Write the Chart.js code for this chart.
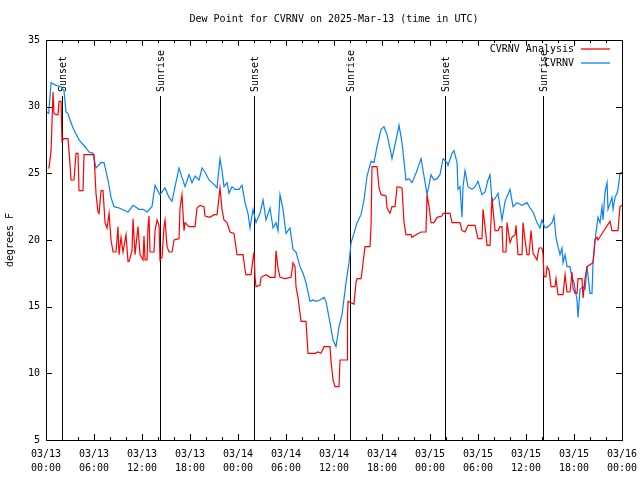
<!DOCTYPE html>
<html>
<head>
<meta charset="utf-8">
<script src="https://cdn.jsdelivr.net/npm/chart.js@4"></script>
<style>
  html, body { margin: 0; padding: 0; background: #fff; }
  canvas { display: block; }
</style>
</head>
<body>
<canvas id="chart" width="640" height="480"></canvas>
<script>
// hours since 2025-03-13 00:00 UTC
const analysisHours = [0.25, 0.38, 0.63, 0.88, 1.0, 1.25, 1.5, 1.63, 1.88, 2.0, 2.25, 2.75, 2.88, 3.13, 3.5, 3.75, 4.0, 4.13, 4.63, 4.75, 6.0, 6.25, 6.5, 6.63, 6.88, 7.13, 7.38, 7.63, 7.88, 8.13, 8.38, 8.75, 9.0, 9.13, 9.38, 9.63, 10.0, 10.25, 10.38, 10.75, 10.88, 11.13, 11.5, 11.75, 12.13, 12.25, 12.38, 12.63, 12.75, 12.88, 13.0, 13.5, 13.63, 13.88, 14.13, 14.25, 14.5, 14.75, 14.88, 15.13, 15.38, 15.75, 16.0, 16.63, 16.75, 17.0, 17.25, 17.38, 17.88, 18.63, 18.88, 19.25, 19.75, 19.88, 20.5, 21.0, 21.38, 21.75, 22.0, 22.25, 22.63, 23.0, 23.5, 23.88, 24.63, 24.88, 25.0, 25.63, 25.88, 26.0, 26.13, 26.25, 26.75, 26.88, 27.5, 28.0, 28.63, 28.75, 29.0, 29.25, 29.88, 30.63, 30.88, 31.13, 31.25, 31.5, 31.75, 31.88, 32.5, 32.75, 33.63, 34.0, 34.38, 34.75, 35.5, 35.63, 35.88, 36.13, 36.63, 36.75, 37.63, 37.69, 37.75, 38.5, 38.75, 38.88, 39.38, 39.5, 39.75, 39.88, 40.5, 40.63, 40.75, 41.38, 41.63, 41.88, 42.5, 42.63, 43.0, 43.25, 43.63, 43.88, 44.5, 44.75, 45.0, 45.63, 45.75, 46.25, 46.88, 47.5, 47.63, 47.88, 48.13, 48.5, 48.88, 49.5, 49.63, 50.5, 50.75, 51.75, 52.0, 52.38, 52.75, 53.63, 54.0, 54.5, 54.63, 54.88, 55.13, 55.5, 55.75, 55.88, 56.13, 56.5, 56.75, 57.0, 57.13, 57.5, 57.63, 58.0, 58.25, 58.63, 58.75, 59.0, 59.5, 59.63, 59.88, 60.13, 60.38, 60.63, 60.88, 61.38, 61.5, 61.63, 62.0, 62.13, 62.25, 62.5, 62.63, 62.88, 63.13, 63.63, 63.75, 64.0, 64.63, 64.88, 65.13, 65.5, 65.75, 65.88, 66.13, 66.38, 66.5, 67.0, 67.13, 67.38, 67.63, 68.38, 68.63, 68.88, 69.0, 69.63, 70.5, 70.75, 71.5, 71.75, 72.0];
const analysisValues = [25.4, 25.4, 26.7, 31.1, 29.5, 29.4, 29.4, 30.4, 30.4, 27.4, 27.6, 27.6, 26.7, 24.5, 24.5, 26.5, 26.5, 23.7, 23.7, 26.4, 26.4, 23.5, 22.1, 22.0, 23.7, 23.7, 21.3, 20.9, 22.0, 20.0, 19.1, 19.1, 21.0, 18.9, 20.2, 19.1, 20.4, 18.4, 18.4, 19.2, 21.6, 18.9, 21.0, 18.9, 18.5, 20.3, 18.5, 18.5, 21.0, 21.8, 19.1, 19.1, 20.7, 21.5, 21.1, 18.5, 18.7, 21.0, 21.5, 19.5, 19.1, 19.1, 20.0, 20.1, 22.4, 23.4, 20.7, 21.3, 21.0, 21.0, 22.4, 22.6, 22.5, 21.8, 21.7, 21.9, 21.9, 23.9, 22.3, 21.5, 21.3, 20.6, 20.5, 18.9, 18.9, 17.75, 17.4, 17.4, 18.6, 19.1, 17.2, 16.5, 16.6, 17.2, 17.4, 17.2, 17.2, 19.2, 17.9, 17.2, 17.1, 17.2, 18.3, 18.0, 16.5, 15.7, 14.5, 13.9, 13.9, 11.5, 11.5, 11.6, 11.5, 12.0, 12.0, 10.9, 9.5, 9.0, 9.0, 11.0, 11.0, 14.2, 15.4, 15.2, 16.8, 17.1, 17.1, 17.6, 18.9, 19.5, 19.5, 21.0, 25.5, 25.5, 23.9, 23.4, 23.3, 22.4, 22.0, 22.5, 22.5, 24.0, 23.9, 21.3, 20.4, 20.4, 20.2, 20.4, 20.6, 20.6, 23.4, 22.5, 21.3, 21.3, 21.7, 21.8, 22.0, 22.0, 21.3, 21.3, 20.7, 20.6, 21.1, 21.1, 20.1, 20.1, 22.3, 21.0, 19.6, 19.6, 23.2, 22.3, 20.7, 20.7, 21.0, 21.0, 19.1, 19.1, 21.3, 19.8, 20.2, 20.4, 21.1, 18.9, 18.9, 21.3, 20.0, 18.9, 18.9, 20.7, 19.0, 18.5, 19.0, 19.4, 19.4, 18.9, 17.25, 17.25, 18.0, 17.75, 16.5, 16.5, 17.1, 15.9, 15.9, 17.4, 16.1, 16.1, 17.6, 16.4, 16.0, 16.0, 17.1, 17.1, 15.65, 17.1, 18.0, 18.3, 20.0, 20.2, 20.0, 20.6, 21.4, 20.7, 20.7, 22.5, 22.6];

const stationHours = [0.1, 0.34, 0.63, 1.25, 1.88, 2.25, 2.5, 2.75, 2.88, 3.38, 4.13, 5.0, 5.38, 5.88, 6.25, 6.88, 7.25, 7.75, 8.13, 8.5, 9.13, 10.25, 10.88, 11.63, 12.13, 12.63, 13.25, 13.63, 14.13, 14.25, 14.88, 15.38, 15.75, 16.13, 16.63, 17.0, 17.38, 17.88, 18.25, 18.63, 19.13, 19.5, 19.88, 20.38, 20.75, 21.13, 21.38, 21.75, 22.0, 22.25, 22.63, 22.88, 23.25, 23.63, 24.13, 24.5, 24.88, 25.25, 25.5, 25.88, 26.25, 26.75, 27.13, 27.5, 28.0, 28.38, 28.75, 29.0, 29.25, 29.63, 30.0, 30.5, 30.88, 31.25, 31.75, 32.13, 32.5, 33.0, 33.38, 33.75, 34.25, 34.75, 35.0, 35.5, 35.88, 36.25, 36.63, 37.0, 37.5, 37.88, 38.13, 38.5, 38.88, 39.38, 39.75, 40.13, 40.63, 41.0, 41.38, 41.88, 42.25, 42.63, 43.13, 43.25, 43.75, 44.13, 44.5, 45.0, 45.38, 45.75, 46.25, 46.88, 47.25, 47.63, 48.13, 48.5, 48.88, 49.25, 49.63, 50.13, 50.25, 50.75, 51.0, 51.38, 51.5, 51.75, 52.0, 52.13, 52.38, 52.75, 53.25, 53.63, 54.0, 54.5, 54.88, 55.25, 55.5, 55.75, 56.13, 56.5, 57.0, 57.38, 58.0, 58.38, 58.88, 59.5, 60.13, 60.5, 60.88, 61.38, 61.75, 62.0, 62.38, 62.75, 63.25, 63.5, 63.75, 64.0, 64.25, 64.5, 64.63, 64.88, 65.13, 65.5, 65.75, 66.0, 66.38, 66.5, 66.75, 67.13, 67.38, 67.63, 68.0, 68.25, 68.38, 68.63, 69.0, 69.25, 69.5, 69.63, 69.88, 70.13, 70.25, 70.75, 70.88, 71.13, 71.38, 71.5, 71.75, 72.0];
const stationValues = [29.6, 29.5, 31.8, 31.6, 31.5, 31.2, 29.6, 29.5, 29.2, 28.4, 27.5, 26.9, 26.6, 26.5, 25.4, 25.8, 25.8, 24.5, 23.2, 22.5, 22.4, 22.1, 22.6, 22.3, 22.3, 22.1, 22.5, 24.1, 23.5, 23.4, 23.9, 23.2, 22.9, 24.0, 25.4, 24.7, 24.0, 24.9, 24.3, 24.8, 24.5, 25.4, 25.1, 24.5, 24.3, 24.1, 23.9, 26.1, 25.2, 24.0, 24.3, 23.5, 24.0, 23.8, 23.8, 24.1, 22.8, 22.0, 20.9, 22.3, 21.3, 22.0, 23.0, 21.5, 22.4, 20.9, 21.3, 20.7, 23.4, 22.3, 20.5, 20.9, 19.3, 19.1, 18.0, 17.5, 16.8, 15.4, 15.5, 15.4, 15.5, 15.7, 15.4, 13.8, 12.5, 12.0, 13.5, 14.4, 16.8, 18.3, 19.8, 20.5, 21.3, 21.9, 23.0, 24.8, 25.9, 25.8, 27.0, 28.3, 28.5, 27.9, 26.5, 26.1, 27.5, 28.6, 27.3, 24.5, 24.6, 24.3, 25.0, 26.1, 24.8, 23.4, 24.9, 24.5, 24.6, 24.9, 26.1, 25.8, 25.6, 26.5, 26.7, 25.8, 23.8, 24.0, 21.7, 24.0, 25.2, 24.0, 23.8, 24.0, 24.4, 23.4, 23.6, 24.5, 24.9, 22.9, 23.1, 23.5, 21.5, 22.9, 23.8, 22.5, 22.8, 22.6, 22.8, 22.4, 22.1, 21.3, 20.9, 21.5, 20.9, 21.0, 21.3, 21.8, 20.2, 19.5, 18.9, 19.4, 18.3, 18.9, 18.0, 18.0, 17.2, 16.8, 15.5, 14.2, 16.3, 16.5, 16.3, 18.0, 16.0, 16.0, 18.3, 20.0, 21.7, 21.3, 22.5, 21.5, 23.6, 24.3, 22.3, 23.2, 22.3, 23.2, 23.5, 23.8, 25.0, 25.1];

const xTickDays = ['03/13', '03/13', '03/13', '03/13', '03/14', '03/14', '03/14', '03/14', '03/15', '03/15', '03/15', '03/15', '03/16'];
const xTickTimes = ['00:00', '06:00', '12:00', '18:00', '00:00', '06:00', '12:00', '18:00', '00:00', '06:00', '12:00', '18:00', '00:00'];

const sunHours = [2.0, 14.25, 26.0, 38.0, 49.88, 62.13];
const sunLabels = ['Sunset', 'Sunrise', 'Sunset', 'Sunrise', 'Sunset', 'Sunrise'];

const FONT = '10px "DejaVu Sans Mono", monospace';

const toPoints = (xs, ys) => xs.map((x, i) => ({ x: x, y: ys[i] }));

// gnuplot-ish frame: inward ticks, box border, sun lines, title, legend
const gnuplotFrame = {
  id: 'gnuplotFrame',
  beforeDatasetsDraw(chart) {
    const { ctx, chartArea: a, scales: { x } } = chart;
    ctx.save();
    ctx.strokeStyle = '#000';
    ctx.lineWidth = 1;
    ctx.fillStyle = '#000';
    ctx.font = FONT;
    sunHours.forEach((h, i) => {
      const px = Math.round(x.getPixelForValue(h)) + 0.5;
      ctx.beginPath();
      ctx.moveTo(px, 96);
      ctx.lineTo(px, a.bottom);
      ctx.stroke();
      ctx.save();
      ctx.translate(px + 1, 92);
      ctx.rotate(-Math.PI / 2);
      ctx.textAlign = 'left';
      ctx.textBaseline = 'middle';
      ctx.fillText(sunLabels[i], 0, 0);
      ctx.restore();
    });
    ctx.restore();
  },
  afterDatasetsDraw(chart) {
    const { ctx, chartArea: a, scales: { x, y } } = chart;
    ctx.save();
    ctx.strokeStyle = '#000';
    ctx.lineWidth = 1;
    ctx.beginPath();
    for (let h = 0; h <= 72; h += 2) {
      const px = Math.round(x.getPixelForValue(h)) + 0.5;
      const len = h % 6 === 0 ? 6 : 3;
      ctx.moveTo(px, a.bottom); ctx.lineTo(px, a.bottom - len);
      ctx.moveTo(px, a.top); ctx.lineTo(px, a.top + len);
    }
    for (let v = 5; v <= 35; v += 5) {
      const py = Math.round(y.getPixelForValue(v)) + 0.5;
      ctx.moveTo(a.left, py); ctx.lineTo(a.left + 6, py);
      ctx.moveTo(a.right, py); ctx.lineTo(a.right - 6, py);
    }
    ctx.stroke();
    ctx.strokeRect(a.left + 0.5, a.top + 0.5, a.right - a.left, a.bottom - a.top);

    // title
    ctx.fillStyle = '#000';
    ctx.font = FONT;
    ctx.textAlign = 'center';
    ctx.textBaseline = 'middle';
    ctx.fillText('Dew Point for CVRNV on 2025-Mar-13 (time in UTC)', (a.left + a.right) / 2, 19);

    // legend
    ctx.textAlign = 'right';
    ctx.lineWidth = 1.3;
    chart.data.datasets.forEach((ds, i) => {
      const ly = 49 + i * 14;
      ctx.fillStyle = '#000';
      ctx.fillText(ds.label, 574, ly);
      ctx.strokeStyle = ds.borderColor;
      ctx.beginPath();
      ctx.moveTo(581, ly);
      ctx.lineTo(610, ly);
      ctx.stroke();
    });
    ctx.restore();
  }
};

new Chart(document.getElementById('chart'), {
  type: 'line',
  data: {
    datasets: [
      {
        label: 'CVRNV Analysis',
        data: toPoints(analysisHours, analysisValues),
        borderColor: '#ff0000',
        borderWidth: 1.2,
        pointRadius: 0,
        tension: 0
      },
      {
        label: 'CVRNV',
        data: toPoints(stationHours, stationValues),
        borderColor: '#0a80ff',
        borderWidth: 1.2,
        pointRadius: 0,
        tension: 0
      }
    ]
  },
  options: {
    responsive: false,
    animation: false,
    devicePixelRatio: 1,
    layout: { padding: { top: 40, right: 18, left: 0, bottom: 0 } },
    plugins: {
      legend: { display: false },
      title: { display: false },
      tooltip: { enabled: false }
    },
    scales: {
      x: {
        type: 'linear',
        min: 0,
        max: 72,
        grid: { display: false, drawTicks: false },
        border: { display: false },
        afterFit: s => { s.height = 40; s.paddingLeft = 0; s.paddingRight = 0; },
        afterBuildTicks: s => { s.ticks = xTickDays.map((d, i) => ({ value: i * 6 })); },
        ticks: {
          padding: 7,
          color: '#000',
          maxRotation: 0,
          autoSkip: false,
          font: { family: '"DejaVu Sans Mono", monospace', size: 10, lineHeight: 1.4 },
          callback: (v, i) => [xTickDays[i], xTickTimes[i]]
        }
      },
      y: {
        min: 5,
        max: 35,
        grid: { display: false, drawTicks: false },
        border: { display: false },
        afterFit: s => { s.width = 46; s.paddingTop = 0; s.paddingBottom = 0; },
        ticks: {
          stepSize: 5,
          padding: 6,
          color: '#000',
          font: { family: '"DejaVu Sans Mono", monospace', size: 10 }
        },
        title: {
          display: true,
          text: 'degrees F',
          color: '#000',
          padding: { top: 4, bottom: 0 },
          font: { family: '"DejaVu Sans Mono", monospace', size: 10 }
        }
      }
    }
  },
  plugins: [gnuplotFrame]
});
</script>
</body>
</html>
